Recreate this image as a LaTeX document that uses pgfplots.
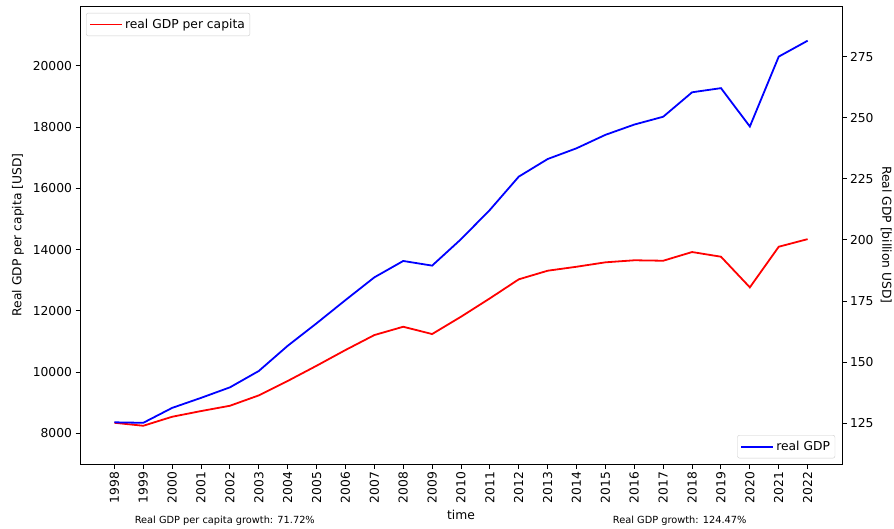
\documentclass[border=0pt]{standalone}
\usepackage{fontspec}
\setmainfont{DejaVu Sans}
\usepackage{pgfplots}
\pgfplotsset{compat=1.18}
\begin{document}
\begin{tikzpicture}
\useasboundingbox (0,0) rectangle (894pt,528pt);
\pgfplotsset{
 common/.style={
  at={(80pt,64pt)}, anchor=south west,
  scale only axis, width=762pt, height=458pt,
  xmin=1996.81, xmax=2023.19,
  tick align=outside, major tick length=4.5pt,
  every tick/.style={black, line width=0.9pt},
  axis line style={line width=0.9pt},
  tick label style={font=\fontsize{12.3}{14}\selectfont},
  label style={font=\fontsize{12.3}{14}\selectfont},
  scaled y ticks=false, scaled x ticks=false,
  /pgf/number format/assume math mode=true,
  /pgf/number format/1000 sep={},
  legend style={font=\fontsize{12.3}{14}\selectfont, draw=black!20, rounded corners=2pt, inner xsep=3pt, inner ysep=4pt},
  legend image code/.code={\draw[#1, line width=1.8pt] (0pt,0pt) -- (26pt,0pt); \path (0pt,0pt) -- (32pt,0pt);},
  legend cell align=left,
 }
}
\begin{axis}[common,
  clip=false,
  ymin=7000, ymax=21950,
  ytick={8000,10000,...,20000},
  xtick={1998,...,2022},
  xtick pos=left, ytick pos=left,
  xticklabel style={rotate=90, anchor=east},
  ylabel={Real GDP per capita [USD]},
  xlabel={time},
  ylabel style={at={(axis description cs:-0.0814,0.5)}, anchor=center},
  xlabel style={at={(axis description cs:0.5,-0.111)}, anchor=center},
  legend style={at={(0.008,0.985)}, anchor=north west},
]
\addplot[red, line width=1.8pt] coordinates {
(1998,8346) (1999,8248) (2000,8542) (2001,8728) (2002,8901)
(2003,9240) (2004,9710) (2005,10207) (2006,10720) (2007,11209)
(2008,11480) (2009,11242) (2010,11807) (2011,12407) (2012,13028)
(2013,13309) (2014,13439) (2015,13583) (2016,13650) (2017,13635)
(2018,13919) (2019,13766) (2020,12766) (2021,14092) (2022,14340)
};
\addlegendentry{real GDP per capita}
\node[font=\fontsize{9.8}{11}\selectfont] at (axis description cs:0.19,-0.1245) {Real GDP per capita growth: 71.72\%};
\node[font=\fontsize{9.8}{11}\selectfont] at (axis description cs:0.787,-0.1245) {Real GDP growth: 124.47\%};
\end{axis}
\begin{axis}[common,
  ymin=108.35, ymax=295.7,
  axis y line*=right, axis x line=none,
  ytick={125,150,...,275},
  ylabel={Real GDP [billion USD]},
  ylabel style={at={(axis description cs:1.058,0.5)}, anchor=center, rotate=180},
  legend style={at={(0.991,0.0124)}, anchor=south east},
]
\addplot[blue, line width=1.8pt] coordinates {
(1998,125.4) (1999,125.2) (2000,131.3) (2001,135.4) (2002,139.7)
(2003,146.4) (2004,156.7) (2005,165.9) (2006,175.4) (2007,184.7)
(2008,191.4) (2009,189.5) (2010,200.3) (2011,212.3) (2012,225.9)
(2013,233.1) (2014,237.5) (2015,243.0) (2016,247.2) (2017,250.4)
(2018,260.4) (2019,262.1) (2020,246.4) (2021,275.0) (2022,281.5)
};
\addlegendentry{real GDP}
\end{axis}
\end{tikzpicture}
\end{document}
